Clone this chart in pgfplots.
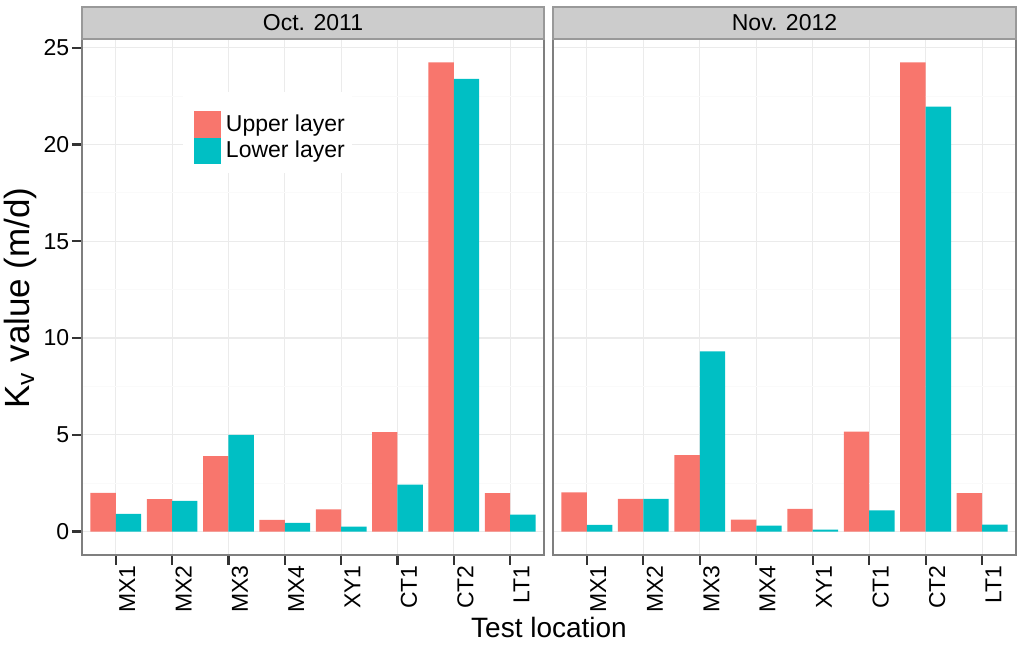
\documentclass[border=0pt]{standalone}
\usepackage{fontspec}
\setmainfont{Liberation Sans}
\usepackage{pgfplots}
\pgfplotsset{compat=1.18}
\definecolor{cup}{HTML}{F8766D}
\definecolor{clo}{HTML}{00BFC4}
\definecolor{g90}{HTML}{EBEBEB}
\definecolor{g98}{HTML}{FAFAFA}
\definecolor{g50}{HTML}{7F7F7F}
\definecolor{g80}{HTML}{CCCCCC}
\definecolor{g20}{HTML}{333333}
\pgfplotsset{panel/.style={
  scale only axis, height=258pt, anchor=south west,
  xmin=0.4, xmax=8.6, ymin=-1.21, ymax=25.45,
  xtick={1,...,8}, xticklabels={MX1,MX2,MX3,MX4,XY1,CT1,CT2,LT1},
  ytick={0,5,10,15,20,25}, minor ytick={2.5,7.5,12.5,17.5,22.5},
  grid=both,
  major grid style={draw=g90, line width=0.6pt},
  minor grid style={draw=g98, line width=0.5pt},
  axis line style={draw=g50, line width=1pt},
  tick align=outside, xtick pos=bottom, ytick pos=left,
  major tick length=5pt, minor tick length=0pt,
  major tick style={draw=g20, line width=1.1pt},
  tick label style={font=\fontsize{11.5}{13}\selectfont},
  xticklabel style={rotate=90, anchor=north east, inner sep=0pt, yshift=-1.5pt},
  yticklabel style={anchor=east, inner sep=0pt, xshift=-1.2pt},
  /pgf/number format/assume math mode=true,
  ybar, bar width=0.45,
  legend image code/.code={\fill[##1] (0pt,-6.6pt) rectangle (13.3pt,6.6pt);},
}}
\begin{document}
\begin{tikzpicture}
\useasboundingbox (0,0) rectangle (512pt,323pt);
\begin{axis}[panel, at={(41pt,45.5pt)}, width=231pt,
  legend style={at={(0.2424,0.861)}, anchor=north west, draw=none, fill=none,
    inner sep=0pt, row sep=0pt, font=\fontsize{11.5}{13}\selectfont,
    nodes={inner sep=0pt}, /tikz/every odd column/.append style={column sep=2.5pt}},
  legend cell align=left]
\fill[white] (rel axis cs:0.2186,0.7403) rectangle (rel axis cs:0.5844,0.8973);
\addplot[fill=cup, draw=none, bar shift=-0.225] coordinates {(1,2.00) (2,1.67) (3,3.90) (4,0.60) (5,1.15) (6,5.14) (7,24.24) (8,1.99)};
\addplot[fill=clo, draw=none, bar shift=0.225] coordinates {(1,0.91) (2,1.58) (3,5.00) (4,0.45) (5,0.26) (6,2.42) (7,23.39) (8,0.88)};
\legend{Upper layer, Lower layer}
\end{axis}
\begin{axis}[panel, at={(276.5pt,45.5pt)}, width=231.5pt,
  yticklabels={}, major y tick style={draw=none}]
\addplot[fill=cup, draw=none, bar shift=-0.225] coordinates {(1,2.03) (2,1.69) (3,3.95) (4,0.62) (5,1.17) (6,5.17) (7,24.24) (8,1.98)};
\addplot[fill=clo, draw=none, bar shift=0.225] coordinates {(1,0.34) (2,1.69) (3,9.31) (4,0.31) (5,0.10) (6,1.09) (7,21.95) (8,0.36)};
\end{axis}
\draw[fill=g80, draw=g50!80, line width=0.8pt] (41pt,303.5pt) rectangle (272pt,319.5pt);
\draw[fill=g80, draw=g50!80, line width=0.8pt] (276.5pt,303.5pt) rectangle (508pt,319.5pt);
\node[font=\fontsize{11.5}{13}\selectfont] at (156.5pt,311.5pt) {Oct. 2011};
\node[font=\fontsize{11.5}{13}\selectfont] at (392.25pt,311.5pt) {Nov. 2012};
\node[font=\fontsize{14}{16}\selectfont] at (274.5pt,9pt) {Test location};
\node[font=\fontsize{17.5}{19}\selectfont, rotate=90] at (10pt,174pt) {K\textsubscript{v} value (m/d)};
\end{tikzpicture}
\end{document}
